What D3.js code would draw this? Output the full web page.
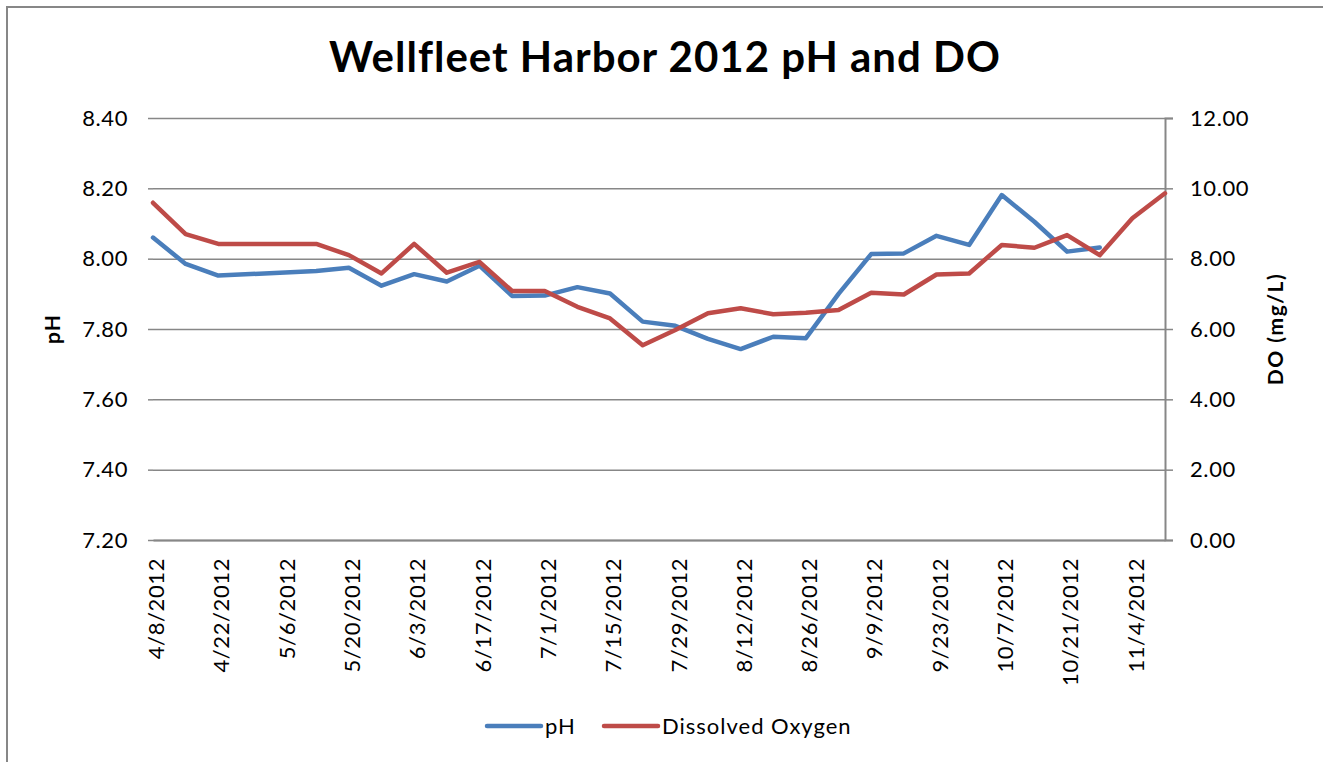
<!DOCTYPE html>
<html>
<head>
<meta charset="utf-8">
<script src="https://cdn.jsdelivr.net/npm/d3@7"></script>
<style>
  body { margin: 0; background: #fff; }
  svg text { font-family: Lato, "Open Sans", sans-serif; fill: #000; }
</style>
</head>
<body>
<div id="chart"></div>
<script>
// sample dates (weekly, with a gap in late April / early May)
const dates = ["4/8/2012", "4/15/2012", "4/22/2012", "5/13/2012", "5/20/2012", "5/27/2012",
  "6/3/2012", "6/10/2012", "6/17/2012", "6/24/2012", "7/1/2012", "7/8/2012", "7/15/2012",
  "7/22/2012", "7/29/2012", "8/5/2012", "8/12/2012", "8/19/2012", "8/26/2012", "9/2/2012",
  "9/9/2012", "9/16/2012", "9/23/2012", "9/30/2012", "10/7/2012", "10/14/2012",
  "10/21/2012", "10/28/2012", "11/4/2012", "11/11/2012"]

const phValues = [8.06, 7.985, 7.952, 7.965, 7.974, 7.923, 7.956, 7.935, 7.98, 7.894,
  7.895, 7.919, 7.901, 7.821, 7.809, 7.772, 7.743, 7.778, 7.774, 7.90,
  8.013, 8.015, 8.065, 8.039, 8.181, 8.105, 8.02, 8.032, null, null]

const doValues = [9.59, 8.70, 8.42, 8.42, 8.10, 7.58, 8.42, 7.60, 7.91, 7.08,
  7.08, 6.63, 6.30, 5.54, 5.97, 6.45, 6.59, 6.42, 6.46, 6.54,
  7.03, 6.98, 7.55, 7.58, 8.39, 8.31, 8.67, 8.10, 9.15, 9.86]

const xTickLabels = ["4/8/2012", "4/22/2012", "5/6/2012", "5/20/2012", "6/3/2012",
  "6/17/2012", "7/1/2012", "7/15/2012", "7/29/2012", "8/12/2012", "8/26/2012",
  "9/9/2012", "9/23/2012", "10/7/2012", "10/21/2012", "11/4/2012"]
const phTicks = [7.2, 7.4, 7.6, 7.8, 8.0, 8.2, 8.4]
const doTicks = [0, 2, 4, 6, 8, 10, 12]

const seriesNames = ["pH", "Dissolved Oxygen"]

const width = 1323, height = 762
const plotLeft = 153, plotRight = 1165, plotTop = 118, plotBottom = 540
const gray = '#878787'
const blue = '#4A7EBB', red = '#BE4B48'

const parse = d3.utcParse('%m/%d/%Y')
const fmt = d3.utcFormat('%-m/%-d/%Y')
const days = dates.map(parse)

const svg = d3.select('#chart').append('svg')
  .attr('width', width)
  .attr('height', height)

// outer chart border (runs off the right and bottom edges)
svg.append('rect')
  .attr('x', 7).attr('y', 7)
  .attr('width', 1400).attr('height', 900)
  .attr('fill', 'none')
  .attr('stroke', gray)
  .attr('stroke-width', 2)

const x = d3.scaleUtc()
  .domain(d3.extent(days))
  .range([plotLeft, plotRight])

const yPh = d3.scaleLinear().domain([7.2, 8.4]).range([plotBottom, plotTop])
const yDo = d3.scaleLinear().domain([0, 12]).range([plotBottom, plotTop])

const tickText = g => g.selectAll('text')
  .attr('font-size', 22)
  .attr('font-family', 'Lato')
  .attr('letter-spacing', 0.6)

// gridlines
svg.append('g')
  .attr('transform', `translate(${plotLeft},0)`)
  .call(d3.axisLeft(yPh).tickValues(phTicks).tickSize(-(plotRight - plotLeft)).tickFormat(''))
  .call(g => g.select('.domain').remove())
  .call(g => g.selectAll('line').attr('stroke', gray).attr('stroke-width', 1.5))

// left axis
svg.append('g')
  .attr('transform', `translate(${plotLeft},0)`)
  .call(d3.axisLeft(yPh).tickValues(phTicks).tickSize(5).tickPadding(20).tickFormat(d3.format('.2f')))
  .call(g => g.select('.domain').remove())
  .call(g => g.selectAll('line').attr('stroke', gray).attr('stroke-width', 1.5))
  .call(tickText)

// right axis
svg.append('g')
  .attr('transform', `translate(${plotRight},0)`)
  .call(d3.axisRight(yDo).tickValues(doTicks).tickSize(8).tickPadding(17).tickFormat(d3.format('.2f')))
  .call(g => g.select('.domain').attr('stroke', gray).attr('stroke-width', 2))
  .call(g => g.selectAll('line').attr('stroke', gray).attr('stroke-width', 1.5))
  .call(tickText)

// bottom axis
svg.append('g')
  .attr('transform', `translate(0,${plotBottom})`)
  .call(d3.axisBottom(x).tickValues(xTickLabels.map(parse)).tickSize(0).tickFormat(fmt))
  .call(g => g.select('.domain').attr('stroke', gray).attr('stroke-width', 2))
  .call(tickText)
  .call(g => g.selectAll('text')
    .attr('text-anchor', 'end')
    .attr('transform', 'rotate(-90)')
    .attr('x', -18)
    .attr('y', 3)
    .attr('dy', '0.35em'))

// lines
const phLine = d3.line()
  .defined((d, i) => phValues[i] != null)
  .x(d => x(d))
  .y((d, i) => yPh(phValues[i]))

const doLine = d3.line()
  .x(d => x(d))
  .y((d, i) => yDo(doValues[i]))

svg.append('path')
  .datum(days)
  .attr('d', phLine)
  .attr('fill', 'none')
  .attr('stroke', blue)
  .attr('stroke-width', 4.5)
  .attr('stroke-linejoin', 'round')
  .attr('stroke-linecap', 'round')

svg.append('path')
  .datum(days)
  .attr('d', doLine)
  .attr('fill', 'none')
  .attr('stroke', red)
  .attr('stroke-width', 4.5)
  .attr('stroke-linejoin', 'round')
  .attr('stroke-linecap', 'round')

// title
svg.append('text')
  .attr('x', 665)
  .attr('y', 72)
  .attr('text-anchor', 'middle')
  .attr('font-size', 42)
  .attr('font-weight', 'bold')
  .attr('letter-spacing', 1)
  .text('Wellfleet Harbor 2012 pH and DO')

// axis titles
svg.append('text')
  .attr('transform', `translate(60,${(plotTop + plotBottom) / 2}) rotate(-90)`)
  .attr('text-anchor', 'middle')
  .attr('font-size', 21)
  .attr('font-weight', 'bold')
  .attr('letter-spacing', 1)
  .text('pH')

svg.append('text')
  .attr('transform', `translate(1283,${(plotTop + plotBottom) / 2}) rotate(-90)`)
  .attr('text-anchor', 'middle')
  .attr('font-size', 21)
  .attr('font-weight', 'bold')
  .attr('letter-spacing', 1.5)
  .text('DO (mg/L)')

// legend
const legend = svg.append('g')
  .attr('transform', 'translate(487,726)')

const legendX = [0, 117]
seriesNames.forEach((name, i) => {
  const g = legend.append('g').attr('transform', `translate(${legendX[i]},0)`)
  g.append('line')
    .attr('x1', 0).attr('x2', 54)
    .attr('stroke', i === 0 ? blue : red)
    .attr('stroke-width', 4.5)
    .attr('stroke-linecap', 'round')
  g.append('text')
    .attr('x', 58)
    .attr('dy', '0.35em')
    .attr('font-size', 22)
    .attr('letter-spacing', 1)
    .text(name)
})
</script>
</body>
</html>
